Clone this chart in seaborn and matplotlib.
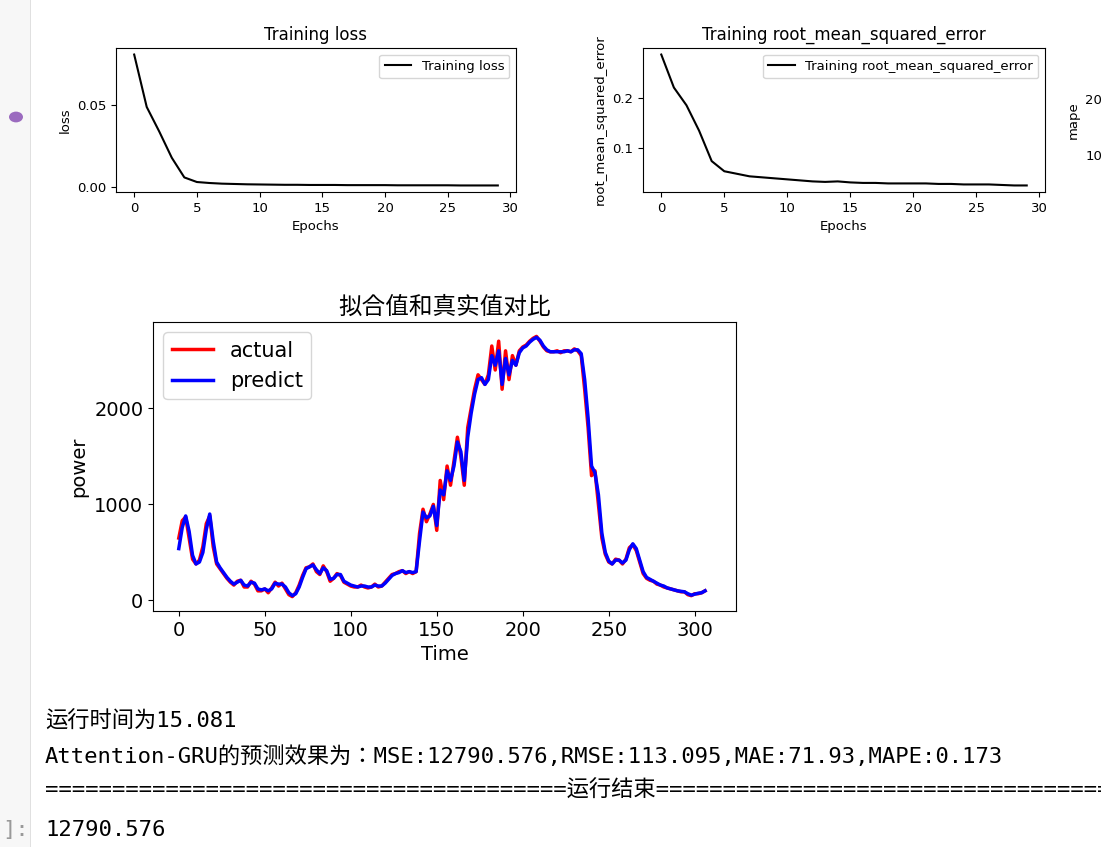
import matplotlib
matplotlib.use("Agg")
import matplotlib.pyplot as plt
import seaborn as sns
import numpy as np
import pandas as pd
from matplotlib.patches import Rectangle, Circle

CJK = ["Noto Sans CJK SC", "Noto Sans CJK JP", "Noto Sans CJK TC", "Noto Sans CJK KR"]
plt.rcParams["font.family"] = ["DejaVu Sans"] + CJK
plt.rcParams["axes.unicode_minus"] = False

epochs = list(range(30))
loss = [0.081, 0.049, 0.034, 0.018, 0.006, 0.0032, 0.0026, 0.0022, 0.002, 0.0018,
        0.0017, 0.0016, 0.0015, 0.0015, 0.0014, 0.0014, 0.0014, 0.0013, 0.0013, 0.0013,
        0.0013, 0.0012, 0.0012, 0.0012, 0.0012, 0.0012, 0.0011, 0.0011, 0.0011, 0.0011]
rmse = [0.285, 0.22, 0.185, 0.135, 0.075, 0.055, 0.050, 0.045, 0.043, 0.041,
        0.039, 0.037, 0.035, 0.034, 0.035, 0.033, 0.032, 0.032, 0.031, 0.031,
        0.031, 0.031, 0.030, 0.030, 0.029, 0.029, 0.029, 0.028, 0.027, 0.027]
mape = [28, 20, 16, 12, 9, 7, 6.5, 6, 5.8, 5.6, 5.4, 5.3, 5.2, 5.1, 5.0,
        5.0, 4.9, 4.9, 4.8, 4.8, 4.7, 4.7, 4.7, 4.6, 4.6, 4.6, 4.5, 4.5, 4.5, 4.5]

time_idx = list(range(0, 308, 2))
actual = [650, 830, 870, 650, 430, 380, 420, 560, 800, 880, 560, 380, 330, 280, 230, 190,
          160, 200, 210, 140, 140, 200, 170, 100, 100, 120, 80, 130, 190, 150, 180, 120,
          60, 40, 80, 160, 260, 340, 350, 380, 300, 270, 360, 300, 200, 230, 280, 260,
          190, 170, 150, 140, 140, 160, 140, 130, 140, 170, 140, 150, 190, 230, 270, 280,
          300, 310, 280, 300, 280, 300, 700, 950, 820, 900, 1000, 730, 1250, 1050, 1400, 1200,
          1450, 1700, 1500, 1200, 1800, 2000, 2200, 2350, 2300, 2250, 2350, 2650, 2400, 2700, 2200, 2600,
          2300, 2550, 2450, 2600, 2640, 2660, 2700, 2730, 2750, 2700, 2640, 2600, 2590, 2590, 2600, 2580,
          2600, 2600, 2590, 2620, 2600, 2550, 2200, 1800, 1300, 1350, 1000, 650, 480, 400, 380, 430,
          420, 380, 430, 550, 580, 520, 400, 280, 230, 210, 200, 170, 160, 140, 130, 120,
          110, 100, 90, 90, 60, 50, 70, 70, 80, 100]
predict = [540, 760, 880, 720, 470, 380, 400, 500, 740, 900, 620, 400, 340, 290, 240, 200,
           170, 190, 210, 160, 150, 190, 180, 120, 110, 120, 100, 120, 180, 170, 170, 140,
           80, 50, 70, 140, 240, 330, 350, 370, 320, 280, 340, 310, 220, 230, 270, 270,
           200, 180, 160, 150, 140, 150, 150, 140, 140, 160, 150, 150, 180, 220, 260, 280,
           290, 310, 290, 300, 290, 300, 620, 920, 860, 880, 980, 780, 1150, 1100, 1350, 1250,
           1400, 1650, 1550, 1250, 1700, 1950, 2150, 2300, 2320, 2250, 2300, 2550, 2450, 2600, 2250, 2520,
           2350, 2500, 2450, 2580, 2630, 2650, 2690, 2720, 2740, 2710, 2650, 2610, 2590, 2590, 2590, 2590,
           2590, 2600, 2590, 2610, 2610, 2570, 2300, 1900, 1400, 1330, 1100, 700, 500, 410, 380, 420,
           420, 390, 420, 530, 590, 540, 420, 300, 240, 220, 200, 180, 160, 150, 130, 120,
           110, 100, 95, 90, 70, 55, 65, 75, 80, 100]

W, H = 1101, 847
fig = plt.figure(figsize=(W / 100, H / 100), dpi=100)
fig.patch.set_facecolor("white")

def rect(x0, y0, x1, y1):
    return [x0 / W, 1 - y1 / H, (x1 - x0) / W, (y1 - y0) / H]

fig.patches.append(Rectangle((0, 0), 30 / W, 1, transform=fig.transFigure,
                             facecolor="#f7f7f7", edgecolor="none"))
fig.patches.append(Rectangle((30 / W, 0), 1.2 / W, 1, transform=fig.transFigure,
                             facecolor="#e0e0e0", edgecolor="none"))
fig.patches.append(Circle((16 / W, 1 - 117 / H), 7 / W, transform=fig.transFigure,
                          facecolor="#9b6bbf", edgecolor="none"))

small = 9.5
ax1 = fig.add_axes(rect(116, 48, 516, 192))
sns.lineplot(x=epochs, y=loss, ax=ax1, color="black", label="Training loss")
ax1.set_title("Training loss", fontsize=12)
ax1.set_xlabel("Epochs", fontsize=small)
ax1.set_ylabel("loss", fontsize=small)
ax1.set_xticks([0, 5, 10, 15, 20, 25, 30])
ax1.set_yticks([0.0, 0.05])
ax1.set_yticklabels(["0.00", "0.05"])
ax1.tick_params(labelsize=small)
ax1.legend(loc="upper right", fontsize=small)

ax2 = fig.add_axes(rect(643, 48, 1045, 192))
sns.lineplot(x=epochs, y=rmse, ax=ax2, color="black", label="Training root_mean_squared_error")
ax2.set_title("Training root_mean_squared_error", fontsize=12)
ax2.set_xlabel("Epochs", fontsize=small)
ax2.set_ylabel("root_mean_squared_error", fontsize=small)
ax2.set_xticks([0, 5, 10, 15, 20, 25, 30])
ax2.set_yticks([0.1, 0.2])
ax2.tick_params(labelsize=small)
ax2.legend(loc="upper right", fontsize=small)

ax3 = fig.add_axes(rect(1112, 48, 1500, 192))
sns.lineplot(x=epochs, y=mape, ax=ax3, color="black")
ax3.set_ylabel("mape", fontsize=small)
ax3.set_yticks([10, 20])
ax3.tick_params(labelsize=small)

ax = fig.add_axes(rect(153, 322, 736, 611))
sns.lineplot(x=time_idx, y=actual, ax=ax, color="red", linewidth=2.5, label="actual")
sns.lineplot(x=time_idx, y=predict, ax=ax, color="blue", linewidth=2.5, label="predict")
ax.set_title("拟合值和真实值对比", fontsize=17, family=CJK)
ax.set_xlabel("Time", fontsize=14)
ax.set_ylabel("power", fontsize=14)
ax.set_xticks([0, 50, 100, 150, 200, 250, 300])
ax.set_yticks([0, 1000, 2000])
ax.set_xlim(-15, 324)
ax.set_ylim(-110, 2900)
ax.tick_params(labelsize=14)
ax.legend(loc="upper left", fontsize=15)

mono = ["DejaVu Sans Mono"] + CJK
fs = 16
fig.text(45 / W, 1 - 721 / H, "运行时间为15.081", fontsize=fs, family=mono, va="center")
fig.text(45 / W, 1 - 756 / H,
         "Attention-GRU的预测效果为：MSE:12790.576,RMSE:113.095,MAE:71.93,MAPE:0.173",
         fontsize=fs, family=mono, va="center")
fig.text(45 / W, 1 - 790 / H, "=" * 39 + "运行结束" + "=" * 40, fontsize=fs, family=mono, va="center")
fig.text(45 / W, 1 - 830 / H, "12790.576", fontsize=fs, family=mono, va="center")
fig.text(2 / W, 1 - 830 / H, "]:", fontsize=fs, family=mono, va="center", color="#999999")

fig.savefig("out.png", dpi=100)
